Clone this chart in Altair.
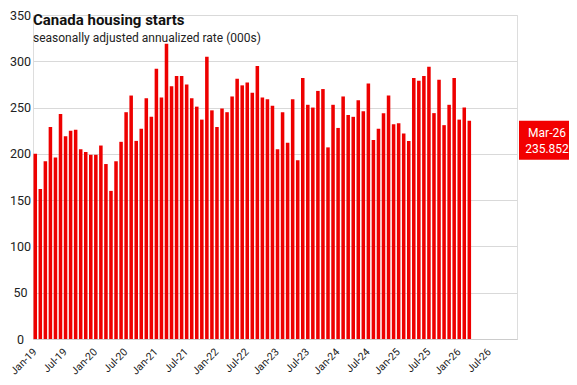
import altair as alt
import pandas as pd

# Monthly categories Jan-19 .. Dec-26 (axis extends past data)
MONTHS = ["Jan", "Feb", "Mar", "Apr", "May", "Jun", "Jul", "Aug", "Sep", "Oct", "Nov", "Dec"]
years = list(range(19, 27))
categories = [f"{m}-{y}" for y in years for m in MONTHS]

# Housing starts, seasonally adjusted annualized rate (000s), Jan-19 .. Mar-26
starts = [
    200, 162, 192, 229, 196, 243, 219, 225, 226, 205, 202, 199,   # 2019
    199, 209, 189, 160, 192, 213, 245, 263, 214, 227, 260, 240,   # 2020
    292, 261, 319, 273, 284, 284, 275, 260, 251, 237, 305, 247,   # 2021
    229, 249, 245, 262, 281, 274, 277, 266, 295, 261, 259, 252,   # 2022
    205, 245, 212, 259, 193, 282, 253, 250, 268, 270, 207, 253,   # 2023
    228, 262, 242, 240, 258, 246, 276, 215, 227, 244, 263, 232,   # 2024
    233, 222, 214, 282, 279, 284, 294, 244, 280, 231, 253, 282,   # 2025
    237, 250, 235.852,                                            # 2026
]

tick_labels = categories[::6]
y_ticks = [0, 50, 100, 150, 200, 250, 300, 350]

df = pd.DataFrame({"month": categories[: len(starts)], "value": starts})
last = pd.DataFrame({
    "month": [categories[len(starts) - 1]],
    "value": [starts[-1]],
    "label": [f"{starts[-1]:.3f}"],
})

PLOT_W, PLOT_H = 484, 324
RED = "#ee0000"

yscale = alt.Scale(domain=[0, 350], nice=False)

bars = alt.Chart(df).mark_bar(color=RED).encode(
    x=alt.X(
        "month:O",
        sort=categories,
        scale=alt.Scale(domain=categories, paddingInner=0.3, paddingOuter=0.1),
        axis=alt.Axis(
            values=tick_labels, title=None, labelAngle=-45, labelAlign="right",
            labelBaseline="middle", labelPadding=11, ticks=False, grid=False,
            domainColor="#cccccc", labelFontSize=10.5, labelColor="#222222",
            labelFont="Roboto",
        ),
    ),
    y=alt.Y(
        "value:Q",
        scale=yscale,
        axis=alt.Axis(
            values=y_ticks, title=None, domain=False, ticks=False,
            gridColor="#d9d9d9", labelAlign="center", labelBaseline="middle",
            labelPadding=13, labelFontSize=12.5, labelColor="#222222",
            labelFont="Roboto",
        ),
    ),
)

box = alt.Chart(last).mark_rect(color="#f20000", y2Offset=39).encode(
    x=alt.value(PLOT_W + 2),
    x2=alt.value(PLOT_W + 62),
    y=alt.Y("value:Q", scale=yscale),
    y2=alt.Y2("value"),
)

lab1 = alt.Chart(last).mark_text(
    color="white", font="Roboto", fontSize=12, align="center",
    baseline="alphabetic", dy=16,
).encode(
    x=alt.value(PLOT_W + 30),
    y=alt.Y("value:Q", scale=yscale),
    text="month:N",
)

lab2 = alt.Chart(last).mark_text(
    color="white", font="Roboto", fontSize=12, align="center",
    baseline="alphabetic", dy=32,
).encode(
    x=alt.value(PLOT_W + 30),
    y=alt.Y("value:Q", scale=yscale),
    text="label:N",
)

chart = alt.layer(bars, box, lab1, lab2).properties(
    width=PLOT_W,
    height=PLOT_H,
    autosize=alt.AutoSizeParams(type="none"),
    padding={"left": 25, "top": 7, "right": 52, "bottom": 37},
    title=alt.TitleParams(
        text="Canada housing starts",
        subtitle="seasonally adjusted annualized rate (000s)",
        anchor="start",
        frame="group",
        offset=-35,
        font="Roboto",
        fontSize=15,
        fontWeight="bold",
        color="#111111",
        subtitleFont="Roboto",
        subtitleFontSize=12,
        subtitleColor="#222222",
        subtitlePadding=5,
    ),
).configure_view(stroke=None).configure(background="white")

chart.save("out.html", embed_options={"renderer": "svg", "actions": False})
